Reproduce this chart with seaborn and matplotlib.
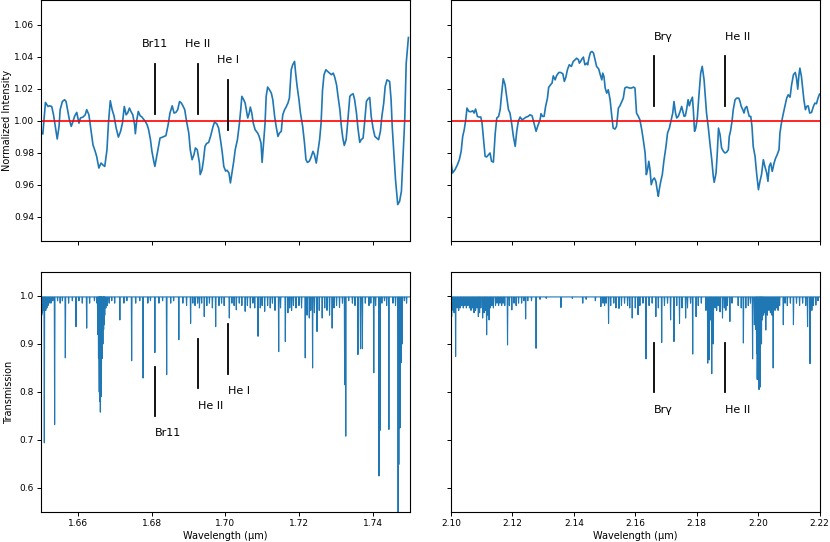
import numpy as np
import matplotlib
matplotlib.use("Agg")
import matplotlib.pyplot as plt
import seaborn as sns

# ---- normalized spectra ----
h_wave = [1.6500, 1.6505, 1.6512, 1.6519, 1.6523, 1.6529, 1.6534, 1.6540, 1.6544, 1.6549,
          1.6552, 1.6558, 1.6564, 1.6568, 1.6573, 1.6577, 1.6582, 1.6586, 1.6591, 1.6597,
          1.6603, 1.6607, 1.6614, 1.6620, 1.6624, 1.6630, 1.6635, 1.6641, 1.6647, 1.6651,
          1.6657, 1.6663, 1.6668, 1.6673, 1.6679, 1.6683, 1.6688, 1.6693, 1.6698, 1.6704,
          1.6710, 1.6716, 1.6721, 1.6726, 1.6731, 1.6735, 1.6740, 1.6744, 1.6749, 1.6754,
          1.6756, 1.6760, 1.6764, 1.6769, 1.6774, 1.6778, 1.6783, 1.6788, 1.6792, 1.6797,
          1.6801, 1.6806, 1.6809, 1.6814, 1.6819, 1.6823, 1.6828, 1.6834, 1.6839, 1.6845,
          1.6850, 1.6856, 1.6861, 1.6866, 1.6871, 1.6876, 1.6881, 1.6885, 1.6890, 1.6895,
          1.6901, 1.6905, 1.6910, 1.6915, 1.6919, 1.6924, 1.6930, 1.6932, 1.6937, 1.6941,
          1.6945, 1.6949, 1.6955, 1.6960, 1.6967, 1.6971, 1.6977, 1.6982, 1.6987, 1.6992,
          1.6996, 1.7001, 1.7005, 1.7010, 1.7014, 1.7018, 1.7023, 1.7027, 1.7033, 1.7038,
          1.7042, 1.7045, 1.7050, 1.7054, 1.7057, 1.7061, 1.7065, 1.7068, 1.7072, 1.7076,
          1.7081, 1.7088, 1.7092, 1.7097, 1.7100, 1.7104, 1.7108, 1.7111, 1.7115, 1.7120,
          1.7125, 1.7129, 1.7134, 1.7138, 1.7143, 1.7147, 1.7152, 1.7156, 1.7161, 1.7165,
          1.7170, 1.7174, 1.7179, 1.7183, 1.7188, 1.7191, 1.7195, 1.7200, 1.7204, 1.7210,
          1.7215, 1.7219, 1.7223, 1.7228, 1.7232, 1.7238, 1.7242, 1.7247, 1.7251, 1.7256,
          1.7260, 1.7264, 1.7268, 1.7273, 1.7278, 1.7283, 1.7288, 1.7293, 1.7297, 1.7302,
          1.7306, 1.7311, 1.7315, 1.7319, 1.7323, 1.7328, 1.7332, 1.7338, 1.7342, 1.7347,
          1.7351, 1.7356, 1.7360, 1.7365, 1.7369, 1.7374, 1.7378, 1.7383, 1.7387, 1.7392,
          1.7396, 1.7401, 1.7406, 1.7411, 1.7416, 1.7421, 1.7425, 1.7430, 1.7434, 1.7439,
          1.7443, 1.7446, 1.7450, 1.7453, 1.7458, 1.7462, 1.7468, 1.7473, 1.7478, 1.7482,
          1.7487, 1.7491, 1.7497]
h_flux = [0.9934, 0.9917, 1.0114, 1.0089, 1.0093, 1.0089, 1.0037, 0.9944, 0.9886, 0.9965,
          1.0069, 1.0120, 1.0131, 1.0120, 1.0058, 1.0006, 0.9965, 0.9990, 1.0027, 1.0052,
          0.9985, 1.0017, 1.0023, 1.0037, 1.0069, 1.0037, 0.9954, 0.9850, 0.9809, 0.9778,
          0.9705, 0.9736, 0.9724, 0.9715, 0.9819, 0.9985, 1.0125, 1.0069, 1.0031, 0.9954,
          0.9898, 0.9934, 0.9985, 1.0089, 1.0037, 1.0048, 1.0079, 1.0058, 1.0037, 0.9975,
          0.9919, 1.0006, 1.0058, 1.0031, 1.0023, 1.0010, 0.9996, 0.9975, 0.9944, 0.9882,
          0.9809, 0.9747, 0.9715, 0.9778, 0.9840, 0.9892, 0.9896, 0.9902, 0.9907, 0.9975,
          1.0048, 1.0093, 1.0048, 1.0052, 1.0069, 1.0120, 1.0110, 1.0093, 1.0069, 0.9996,
          0.9923, 0.9819, 0.9757, 0.9788, 0.9830, 0.9819, 0.9736, 0.9664, 0.9695, 0.9757,
          0.9840, 0.9857, 0.9865, 0.9902, 0.9965, 0.9992, 0.9981, 0.9954, 0.9882, 0.9799,
          0.9715, 0.9686, 0.9691, 0.9674, 0.9612, 0.9674, 0.9747, 0.9819, 0.9882, 0.9975,
          1.0069, 1.0152, 1.0131, 1.0110, 1.0069, 1.0017, 1.0048, 1.0085, 1.0048, 0.9985,
          0.9944, 0.9923, 0.9902, 0.9861, 0.9740, 0.9861, 0.9985, 1.0152, 1.0210, 1.0193,
          1.0172, 1.0131, 1.0027, 0.9965, 0.9902, 0.9923, 0.9934, 1.0037, 1.0069, 1.0085,
          1.0110, 1.0141, 1.0318, 1.0349, 1.0370, 1.0297, 1.0214, 1.0131, 1.0048, 0.9965,
          0.9861, 0.9757, 0.9740, 0.9747, 0.9767, 0.9809, 0.9788, 0.9736, 0.9799, 0.9882,
          0.9985, 1.0193, 1.0287, 1.0318, 1.0307, 1.0297, 1.0287, 1.0297, 1.0272, 1.0224,
          1.0152, 1.0069, 0.9965, 0.9892, 0.9846, 0.9882, 0.9985, 1.0152, 1.0162, 1.0168,
          1.0131, 1.0048, 0.9954, 0.9865, 0.9882, 0.9892, 0.9985, 1.0120, 1.0135, 1.0145,
          1.0027, 0.9954, 0.9902, 0.9892, 0.9882, 0.9934, 1.0027, 1.0110, 1.0214, 1.0255,
          1.0249, 1.0245, 1.0131, 0.9965, 0.9778, 0.9632, 0.9477, 0.9497, 0.9560, 0.9757,
          1.0006, 1.0359, 1.0519]

k_wave = [2.1000, 2.1005, 2.1013, 2.1021, 2.1027, 2.1033, 2.1038, 2.1043, 2.1048, 2.1052,
          2.1058, 2.1064, 2.1071, 2.1075, 2.1080, 2.1086, 2.1091, 2.1097, 2.1101, 2.1105,
          2.1111, 2.1116, 2.1122, 2.1127, 2.1132, 2.1138, 2.1144, 2.1149, 2.1155, 2.1160,
          2.1165, 2.1170, 2.1176, 2.1181, 2.1187, 2.1192, 2.1198, 2.1203, 2.1209, 2.1214,
          2.1219, 2.1225, 2.1231, 2.1237, 2.1243, 2.1251, 2.1257, 2.1264, 2.1270, 2.1277,
          2.1282, 2.1290, 2.1293, 2.1298, 2.1303, 2.1308, 2.1314, 2.1318, 2.1324, 2.1329,
          2.1333, 2.1339, 2.1344, 2.1351, 2.1357, 2.1364, 2.1369, 2.1374, 2.1379, 2.1385,
          2.1392, 2.1398, 2.1404, 2.1409, 2.1415, 2.1418, 2.1422, 2.1426, 2.1431, 2.1436,
          2.1442, 2.1445, 2.1449, 2.1454, 2.1459, 2.1464, 2.1469, 2.1474, 2.1481, 2.1486,
          2.1491, 2.1494, 2.1498, 2.1502, 2.1507, 2.1512, 2.1518, 2.1523, 2.1528, 2.1534,
          2.1539, 2.1545, 2.1550, 2.1556, 2.1561, 2.1566, 2.1572, 2.1581, 2.1588, 2.1594,
          2.1599, 2.1604, 2.1610, 2.1615, 2.1621, 2.1626, 2.1632, 2.1636, 2.1640, 2.1644,
          2.1648, 2.1652, 2.1657, 2.1662, 2.1667, 2.1672, 2.1675, 2.1678, 2.1683, 2.1688,
          2.1693, 2.1700, 2.1705, 2.1711, 2.1716, 2.1722, 2.1726, 2.1731, 2.1735, 2.1740,
          2.1746, 2.1751, 2.1755, 2.1759, 2.1763, 2.1767, 2.1772, 2.1776, 2.1780, 2.1786,
          2.1789, 2.1793, 2.1797, 2.1802, 2.1807, 2.1813, 2.1818, 2.1824, 2.1828, 2.1832,
          2.1838, 2.1843, 2.1849, 2.1854, 2.1857, 2.1863, 2.1867, 2.1871, 2.1876, 2.1881,
          2.1887, 2.1892, 2.1897, 2.1903, 2.1906, 2.1910, 2.1915, 2.1919, 2.1925, 2.1930,
          2.1937, 2.1941, 2.1945, 2.1950, 2.1954, 2.1958, 2.1963, 2.1967, 2.1971, 2.1976,
          2.1980, 2.1984, 2.1990, 2.1995, 2.2001, 2.2006, 2.2011, 2.2017, 2.2022, 2.2028,
          2.2032, 2.2036, 2.2041, 2.2046, 2.2052, 2.2057, 2.2062, 2.2068, 2.2071, 2.2075,
          2.2080, 2.2086, 2.2093, 2.2098, 2.2104, 2.2109, 2.2115, 2.2121, 2.2125, 2.2129,
          2.2133, 2.2136, 2.2141, 2.2145, 2.2149, 2.2154, 2.2158, 2.2163, 2.2168, 2.2174,
          2.2180, 2.2185, 2.2190, 2.2195, 2.2200]
k_flux = [0.9747, 0.9674, 0.9695, 0.9726, 0.9757, 0.9809, 0.9902, 0.9944, 1.0006, 1.0079,
          1.0058, 1.0056, 1.0062, 1.0048, 1.0073, 1.0027, 1.0023, 1.0023, 0.9985, 0.9902,
          0.9778, 0.9774, 0.9788, 0.9799, 0.9747, 0.9742, 0.9923, 1.0017, 1.0027, 1.0069,
          1.0172, 1.0262, 1.0224, 1.0152, 1.0069, 1.0048, 0.9975, 0.9902, 0.9840, 0.9934,
          0.9996, 1.0023, 1.0006, 1.0012, 1.0021, 1.0027, 1.0037, 1.0031, 0.9985, 0.9934,
          0.9965, 1.0006, 1.0044, 1.0027, 1.0027, 1.0089, 1.0141, 1.0208, 1.0224, 1.0235,
          1.0280, 1.0255, 1.0282, 1.0301, 1.0301, 1.0293, 1.0245, 1.0272, 1.0318, 1.0349,
          1.0339, 1.0370, 1.0380, 1.0390, 1.0380, 1.0359, 1.0370, 1.0384, 1.0397, 1.0349,
          1.0359, 1.0349, 1.0390, 1.0426, 1.0432, 1.0422, 1.0380, 1.0339, 1.0322, 1.0287,
          1.0255, 1.0297, 1.0276, 1.0204, 1.0172, 1.0193, 1.0131, 1.0037, 0.9954, 0.9948,
          0.9965, 1.0079, 1.0093, 1.0120, 1.0141, 1.0204, 1.0210, 1.0204, 1.0204, 1.0210,
          1.0204, 1.0048, 1.0027, 1.0006, 0.9944, 0.9882, 0.9799, 0.9664, 0.9695, 0.9747,
          0.9695, 0.9601, 0.9632, 0.9643, 0.9622, 0.9560, 0.9529, 0.9570, 0.9622, 0.9664,
          0.9747, 0.9840, 0.9923, 0.9954, 0.9996, 1.0048, 1.0120, 1.0048, 1.0017, 1.0027,
          1.0058, 1.0089, 1.0058, 1.0027, 1.0031, 1.0069, 1.0131, 1.0093, 1.0120, 1.0147,
          1.0069, 0.9934, 0.9954, 1.0017, 1.0152, 1.0297, 1.0339, 1.0255, 1.0152, 1.0048,
          0.9954, 0.9861, 0.9757, 0.9653, 0.9616, 0.9674, 0.9799, 0.9954, 0.9913, 0.9830,
          0.9809, 0.9799, 0.9803, 0.9819, 0.9902, 0.9934, 0.9996, 1.0069, 1.0131, 1.0141,
          1.0141, 1.0120, 1.0089, 1.0069, 1.0048, 1.0079, 1.0089, 1.0058, 1.0027, 1.0027,
          0.9965, 0.9840, 0.9778, 0.9674, 0.9570, 0.9622, 0.9664, 0.9757, 0.9715, 0.9674,
          0.9622, 0.9715, 0.9736, 0.9684, 0.9736, 0.9767, 0.9788, 0.9819, 0.9923, 0.9975,
          1.0027, 1.0079, 1.0141, 1.0162, 1.0147, 1.0224, 1.0287, 1.0301, 1.0266, 1.0197,
          1.0287, 1.0328, 1.0276, 1.0204, 1.0131, 1.0069, 1.0089, 1.0093, 1.0048, 1.0052,
          1.0089, 1.0110, 1.0106, 1.0141, 1.0166]

# ---- telluric absorption lines: centre (um) and minimum transmission ----
h_line_wave = [1.6502, 1.6504, 1.6506, 1.6509, 1.6511, 1.6513, 1.6516, 1.6519, 1.6522, 1.6527,
               1.6532, 1.6537, 1.6545, 1.6552, 1.6558, 1.6566, 1.6575, 1.6585, 1.6595, 1.6603,
               1.6612, 1.6624, 1.6632, 1.6645, 1.6652, 1.6654, 1.6656, 1.6658, 1.6659, 1.6661,
               1.6663, 1.6664, 1.6666, 1.6668, 1.6670, 1.6671, 1.6673, 1.6676, 1.6680, 1.6685,
               1.6692, 1.6700, 1.6714, 1.6725, 1.6733, 1.6746, 1.6757, 1.6768, 1.6777, 1.6790,
               1.6797, 1.6809, 1.6820, 1.6830, 1.6841, 1.6852, 1.6860, 1.6874, 1.6885, 1.6895,
               1.6906, 1.6912, 1.6918, 1.6925, 1.6930, 1.6936, 1.6943, 1.6950, 1.6957, 1.6965,
               1.6974, 1.6983, 1.6990, 1.6997, 1.7011, 1.7018, 1.7024, 1.7030, 1.7038, 1.7045,
               1.7054, 1.7060, 1.7068, 1.7075, 1.7080, 1.7089, 1.7095, 1.7100, 1.7107, 1.7115,
               1.7122, 1.7128, 1.7135, 1.7145, 1.7150, 1.7163, 1.7170, 1.7175, 1.7180, 1.7185,
               1.7192, 1.7200, 1.7207, 1.7217, 1.7222, 1.7228, 1.7232, 1.7237, 1.7242, 1.7249,
               1.7255, 1.7263, 1.7270, 1.7276, 1.7283, 1.7290, 1.7295, 1.7302, 1.7310, 1.7318,
               1.7324, 1.7327, 1.7335, 1.7345, 1.7352, 1.7360, 1.7367, 1.7372, 1.7380, 1.7390,
               1.7395, 1.7403, 1.7408, 1.7417, 1.7420, 1.7425, 1.7432, 1.7438, 1.7444, 1.7455,
               1.7462, 1.7469, 1.7471, 1.7474, 1.7477, 1.7480, 1.7486, 1.7492]
h_line_depth = [0.960, 0.965, 0.970, 0.694, 0.975, 0.970, 0.975, 0.980, 0.985, 0.985,
                0.990, 0.732, 0.990, 0.985, 0.990, 0.871, 0.985, 0.990, 0.936, 0.990,
                0.985, 0.933, 0.985, 0.990, 0.985, 0.920, 0.870, 0.800, 0.780, 0.758,
                0.790, 0.830, 0.870, 0.900, 0.930, 0.940, 0.960, 0.975, 0.980, 0.985,
                0.990, 0.985, 0.950, 0.985, 0.990, 0.865, 0.985, 0.990, 0.829, 0.985,
                0.990, 0.882, 0.985, 0.990, 0.836, 0.985, 0.990, 0.909, 0.985, 0.980,
                0.943, 0.985, 0.980, 0.985, 0.975, 0.985, 0.957, 0.980, 0.985, 0.975,
                0.936, 0.980, 0.985, 0.980, 0.954, 0.985, 0.980, 0.971, 0.985, 0.980,
                0.968, 0.980, 0.975, 0.985, 0.975, 0.916, 0.975, 0.980, 0.968, 0.980,
                0.975, 0.985, 0.970, 0.884, 0.975, 0.905, 0.965, 0.975, 0.970, 0.980,
                0.975, 0.980, 0.975, 0.871, 0.960, 0.954, 0.970, 0.850, 0.965, 0.926,
                0.970, 0.954, 0.975, 0.970, 0.960, 0.933, 0.975, 0.980, 0.976, 0.985,
                0.815, 0.708, 0.990, 0.985, 0.980, 0.878, 0.890, 0.890, 0.985, 0.980,
                0.985, 0.840, 0.980, 0.625, 0.720, 0.985, 0.990, 0.980, 0.722, 0.985,
                0.980, 0.500, 0.649, 0.725, 0.861, 0.900, 0.990, 0.985]

k_line_wave = [2.1002, 2.1007, 2.1010, 2.1015, 2.1020, 2.1025, 2.1030, 2.1035, 2.1040, 2.1045,
               2.1050, 2.1055, 2.1060, 2.1065, 2.1070, 2.1075, 2.1080, 2.1085, 2.1089, 2.1093,
               2.1097, 2.1103, 2.1108, 2.1112, 2.1116, 2.1120, 2.1124, 2.1128, 2.1133, 2.1138,
               2.1145, 2.1150, 2.1155, 2.1160, 2.1165, 2.1170, 2.1175, 2.1184, 2.1190, 2.1198,
               2.1205, 2.1212, 2.1220, 2.1230, 2.1237, 2.1243, 2.1250, 2.1262, 2.1277, 2.1290,
               2.1310, 2.1358, 2.1395, 2.1429, 2.1440, 2.1470, 2.1488, 2.1495, 2.1500, 2.1505,
               2.1513, 2.1520, 2.1530, 2.1537, 2.1547, 2.1555, 2.1565, 2.1575, 2.1582, 2.1590,
               2.1600, 2.1609, 2.1615, 2.1625, 2.1635, 2.1645, 2.1655, 2.1667, 2.1675, 2.1686,
               2.1695, 2.1705, 2.1715, 2.1726, 2.1735, 2.1744, 2.1752, 2.1764, 2.1770, 2.1780,
               2.1787, 2.1798, 2.1805, 2.1815, 2.1830, 2.1836, 2.1841, 2.1845, 2.1849, 2.1854,
               2.1860, 2.1865, 2.1870, 2.1876, 2.1884, 2.1890, 2.1895, 2.1900, 2.1908, 2.1915,
               2.1935, 2.1945, 2.1952, 2.1960, 2.1968, 2.1975, 2.1982, 2.1988, 2.1992, 2.1995,
               2.1997, 2.2000, 2.2003, 2.2006, 2.2008, 2.2011, 2.2013, 2.2018, 2.2022, 2.2025,
               2.2030, 2.2035, 2.2040, 2.2045, 2.2049, 2.2055, 2.2060, 2.2065, 2.2070, 2.2082,
               2.2088, 2.2095, 2.2105, 2.2115, 2.2125, 2.2135, 2.2145, 2.2155, 2.2161, 2.2169,
               2.2175, 2.2180, 2.2188, 2.2195]
k_line_depth = [0.957, 0.970, 0.965, 0.874, 0.975, 0.970, 0.975, 0.980, 0.975, 0.980,
                0.975, 0.980, 0.975, 0.970, 0.975, 0.965, 0.970, 0.975, 0.957, 0.965,
                0.975, 0.954, 0.965, 0.970, 0.919, 0.960, 0.950, 0.975, 0.980, 0.975,
                0.980, 0.985, 0.980, 0.985, 0.980, 0.985, 0.980, 0.898, 0.980, 0.971,
                0.985, 0.980, 0.985, 0.985, 0.990, 0.952, 0.990, 0.990, 0.891, 0.993,
                0.995, 0.976, 0.995, 0.985, 0.993, 0.990, 0.978, 0.985, 0.980, 0.985,
                0.943, 0.980, 0.985, 0.975, 0.974, 0.980, 0.985, 0.980, 0.975, 0.954,
                0.975, 0.961, 0.980, 0.985, 0.869, 0.980, 0.985, 0.957, 0.975, 0.903,
                0.980, 0.985, 0.950, 0.905, 0.980, 0.943, 0.975, 0.954, 0.975, 0.985,
                0.879, 0.957, 0.980, 0.985, 0.970, 0.860, 0.867, 0.950, 0.838, 0.900,
                0.975, 0.970, 0.980, 0.967, 0.954, 0.975, 0.970, 0.980, 0.947, 0.985,
                0.980, 0.975, 0.902, 0.975, 0.980, 0.985, 0.869, 0.940, 0.930, 0.880,
                0.826, 0.900, 0.805, 0.810, 0.920, 0.900, 0.950, 0.960, 0.965, 0.929,
                0.960, 0.970, 0.965, 0.960, 0.850, 0.970, 0.975, 0.970, 0.980, 0.940,
                0.985, 0.980, 0.985, 0.940, 0.985, 0.980, 0.985, 0.980, 0.936, 0.859,
                0.970, 0.980, 0.981, 0.990]
continuum = 0.998

# ---- line identifications ----
h_ids = ["Br11", "He II", "He I"]
h_id_wave = [1.6810, 1.6926, 1.7007]
k_ids = ["Br\u03b3", "He II"]
k_id_wave = [2.1661, 2.1891]


def transmission(centres, depths, half_width, lo, hi):
    # each line drawn as continuum -> minimum -> continuum
    xs, ys = [lo, hi], [continuum, continuum]
    for c, d in zip(centres, depths):
        xs += [c - half_width, c, c + half_width]
        ys += [continuum, d, continuum]
    order = np.argsort(xs, kind="stable")
    return np.array(xs)[order], np.array(ys)[order]


blue = "#1f77b4"
fig = plt.figure(figsize=(8.3, 5.42), dpi=100)
ax_tl = fig.add_axes([0.0494, 0.5554, 0.4440, 0.4437])
ax_tr = fig.add_axes([0.5434, 0.5554, 0.4440, 0.4437], sharey=ax_tl)
ax_bl = fig.add_axes([0.0494, 0.0554, 0.4440, 0.4428], sharex=ax_tl)
ax_br = fig.add_axes([0.5434, 0.0554, 0.4440, 0.4428], sharex=ax_tr, sharey=ax_bl)

sns.lineplot(x=h_wave, y=h_flux, ax=ax_tl, color=blue, lw=1.2, estimator=None, sort=False)
sns.lineplot(x=k_wave, y=k_flux, ax=ax_tr, color=blue, lw=1.2, estimator=None, sort=False)
for ax in (ax_tl, ax_tr):
    ax.axhline(1.0, color="red", lw=1.2)

hx, hy = transmission(h_line_wave, h_line_depth, 0.0001, 1.65, 1.75)
kx, ky = transmission(k_line_wave, k_line_depth, 0.00012, 2.10, 2.22)
sns.lineplot(x=hx, y=hy, ax=ax_bl, color=blue, lw=0.8, estimator=None, sort=False)
sns.lineplot(x=kx, y=ky, ax=ax_br, color=blue, lw=0.8, estimator=None, sort=False)

# identifications, top row
tops_h = [1.0355, 1.0355, 1.0255]
for name, w, t in zip(h_ids, h_id_wave, tops_h):
    ax_tl.plot([w, w], [t - 0.031, t], color="black", lw=1.3)
    ax_tl.text(w, t + 0.0095, name, ha="center", va="bottom", fontsize=8)
for name, w in zip(k_ids, k_id_wave):
    ax_tr.plot([w, w], [1.0093, 1.0405], color="black", lw=1.3)
    ax_tr.text(w, 1.049, name, ha="left", va="bottom", fontsize=8)

# identifications, bottom row
lows_h = [0.750, 0.808, 0.838]
for name, w, b in zip(h_ids, h_id_wave, lows_h):
    ax_bl.plot([w, w], [b, b + 0.103], color="black", lw=1.3)
    ax_bl.text(w, b - 0.026, name, ha="left", va="top", fontsize=8)
for name, w in zip(k_ids, k_id_wave):
    ax_br.plot([w, w], [0.799, 0.902], color="black", lw=1.3)
    ax_br.text(w, 0.773, name, ha="left", va="top", fontsize=8)

ax_tl.set_xlim(1.65, 1.75)
ax_tr.set_xlim(2.10, 2.22)
ax_tl.set_ylim(0.925, 1.075)
ax_bl.set_ylim(0.55, 1.05)
ax_tl.set_yticks([0.94, 0.96, 0.98, 1.00, 1.02, 1.04, 1.06])
ax_bl.set_yticks([0.6, 0.7, 0.8, 0.9, 1.0])
ax_tl.set_xticks([1.66, 1.68, 1.70, 1.72, 1.74])
ax_tr.set_xticks([2.10, 2.12, 2.14, 2.16, 2.18, 2.20, 2.22])

ax_tl.set_ylabel("Normalized Intensity", fontsize=7, labelpad=1.5)
ax_bl.set_ylabel("Transmission", fontsize=7, labelpad=4)
ax_bl.set_xlabel("Wavelength (\u03bcm)", fontsize=7, labelpad=2)
ax_br.set_xlabel("Wavelength (\u03bcm)", fontsize=7, labelpad=2)

for ax in (ax_tl, ax_tr, ax_bl, ax_br):
    ax.tick_params(labelsize=6.5, length=3, width=0.7, pad=2)
    for s in ax.spines.values():
        s.set_linewidth(0.8)
ax_tl.tick_params(labelbottom=False)
ax_tr.tick_params(labelbottom=False, labelleft=False)
ax_br.tick_params(labelleft=False)
ax_tr.set_ylabel("")
ax_br.set_ylabel("")

fig.savefig("out.png", dpi=100)
